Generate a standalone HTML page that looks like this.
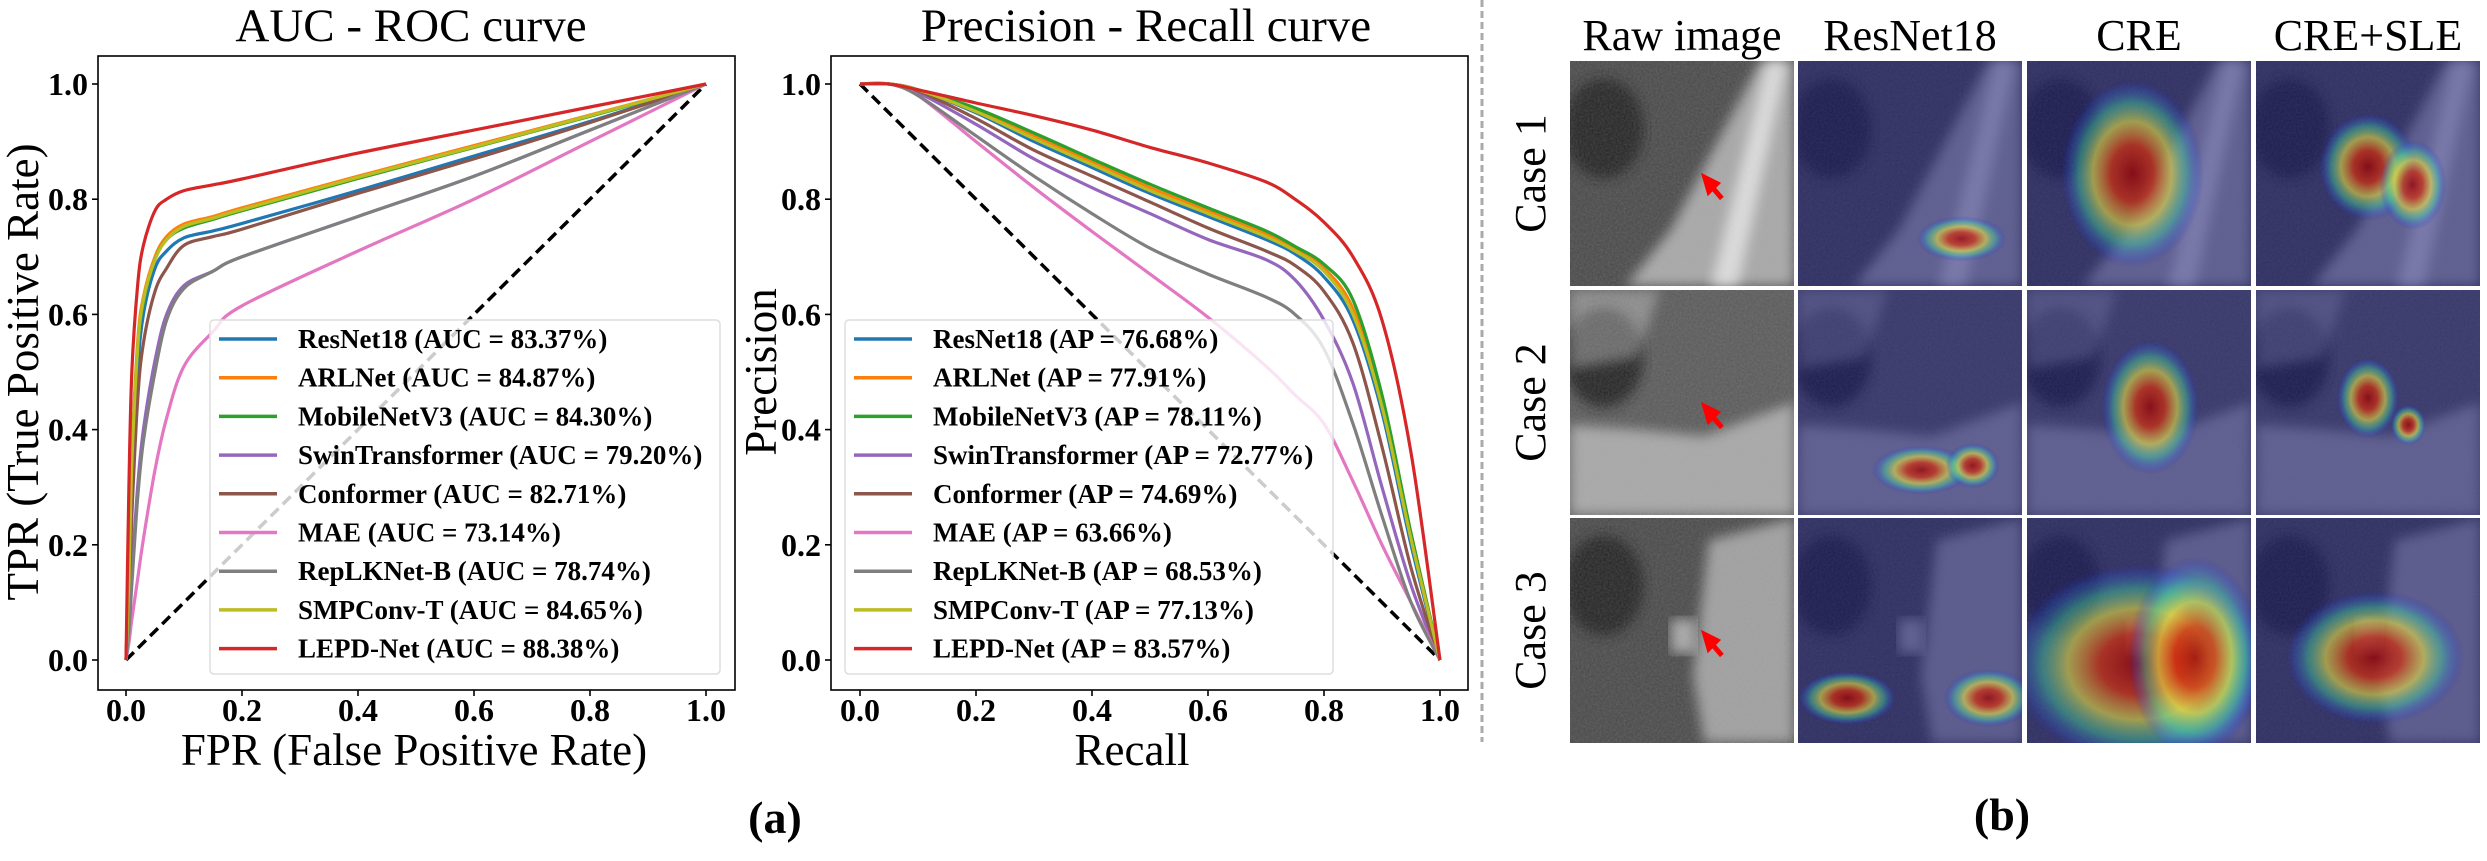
<!DOCTYPE html>
<html><head><meta charset="utf-8"><style>
html,body{margin:0;padding:0;background:#fff;}
svg, svg text{font-family:"Liberation Serif","DejaVu Serif","Times New Roman",serif;}
</style></head><body>
<svg id="fig" width="2487" height="856" viewBox="0 0 2487 856" xmlns="http://www.w3.org/2000/svg" font-family="Liberation Serif, DejaVu Serif, serif">
<defs>
  <radialGradient id="heat" cx="0.5" cy="0.5" r="0.5">
    <stop offset="0" stop-color="#a00000" stop-opacity="0.75"/>
    <stop offset="0.3" stop-color="#d8300a" stop-opacity="0.7"/>
    <stop offset="0.55" stop-color="#e8e040" stop-opacity="0.6"/>
    <stop offset="0.75" stop-color="#40d0a0" stop-opacity="0.45"/>
    <stop offset="0.9" stop-color="#3060e0" stop-opacity="0.25"/>
    <stop offset="1" stop-color="#2020a0" stop-opacity="0"/>
  </radialGradient>
  <filter id="blur6"><feGaussianBlur stdDeviation="6"/></filter>
  <filter id="noise" x="0" y="0" width="1" height="1">
    <feTurbulence type="fractalNoise" baseFrequency="0.5" numOctaves="2" result="n"/>
    <feColorMatrix type="matrix" values="0 0 0 0 0.5  0 0 0 0 0.5  0 0 0 0 0.5  0 0 0 0.25 0"/>
  </filter>
</defs>
<g id="roc"></g>
<g id="pr"></g>
<line x1="1482" y1="0" x2="1482" y2="742" stroke="#aaa" stroke-width="3" stroke-dasharray="7,4"/>
<text x="775" y="833" font-size="46" font-weight="bold" text-anchor="middle">(a)</text>
<g id="grid"></g>
<text x="2002" y="830" font-size="46" font-weight="bold" text-anchor="middle">(b)</text>
</svg>
<script>
const NS="http://www.w3.org/2000/svg";
const seriesNames=["ResNet18","ARLNet","MobileNetV3","SwinTransformer","Conformer","MAE","RepLKNet-B","SMPConv-T","LEPD-Net"];
const seriesColors=["#1f77b4","#ff7f0e","#2ca02c","#9467bd","#8c564b","#e377c2","#7f7f7f","#bcbd22","#d62728"];
const aucValues=["83.37%","84.87%","84.30%","79.20%","82.71%","73.14%","78.74%","84.65%","88.38%"];
const apValues=["76.68%","77.91%","78.11%","72.77%","74.69%","63.66%","68.53%","77.13%","83.57%"];
const tickLabels=["0.0","0.2","0.4","0.6","0.8","1.0"];
const tickValues=[0,0.2,0.4,0.6,0.8,1.0];
const fprGrid=[0,0.005,0.01,0.02,0.03,0.05,0.07,0.1,0.15,0.2,0.4,0.6,0.8,1];
const tprResNet18=[0,0.12,0.3,0.5,0.6,0.68,0.71,0.733,0.745,0.758,0.815,0.875,0.935,1];
const tprARLNet=[0,0.15,0.35,0.55,0.63,0.7,0.735,0.757,0.77,0.785,0.84,0.893,0.946,1];
const tprMobileNetV3=[0,0.15,0.34,0.54,0.62,0.695,0.73,0.75,0.765,0.78,0.836,0.89,0.944,1];
const tprSwin=[0,0.06,0.15,0.3,0.4,0.52,0.6,0.65,0.675,0.7,0.77,0.84,0.92,1];
const tprConformer=[0,0.1,0.25,0.45,0.55,0.64,0.68,0.72,0.735,0.748,0.81,0.87,0.933,1];
const tprMAE=[0,0.03,0.07,0.14,0.21,0.33,0.42,0.51,0.57,0.615,0.71,0.8,0.9,1];
const tprRepLK=[0,0.05,0.13,0.28,0.38,0.5,0.59,0.645,0.675,0.7,0.77,0.84,0.92,1];
const tprSMPConv=[0,0.14,0.34,0.54,0.625,0.695,0.73,0.753,0.767,0.782,0.838,0.891,0.945,1];
const tprLEPD=[0,0.3,0.5,0.65,0.72,0.78,0.8,0.815,0.825,0.835,0.88,0.92,0.96,1];
const rocSeries=[tprResNet18,tprARLNet,tprMobileNetV3,tprSwin,tprConformer,tprMAE,tprRepLK,tprSMPConv,tprLEPD];
const recallGrid=[0,0.05,0.1,0.2,0.3,0.4,0.5,0.6,0.7,0.75,0.8,0.85,0.9,0.95,1];
const precResNet18=[1,1,0.99,0.95,0.9,0.855,0.81,0.77,0.73,0.705,0.665,0.59,0.43,0.2,0];
const precARLNet=[1,1,0.99,0.955,0.91,0.865,0.82,0.78,0.74,0.713,0.68,0.61,0.45,0.22,0];
const precMobileNetV3=[1,1,0.99,0.958,0.915,0.87,0.826,0.785,0.745,0.718,0.687,0.625,0.46,0.22,0];
const precSwin=[1,1,0.985,0.93,0.87,0.82,0.775,0.73,0.695,0.66,0.59,0.48,0.3,0.13,0];
const precConformer=[1,1,0.988,0.94,0.885,0.84,0.795,0.75,0.71,0.685,0.64,0.55,0.37,0.16,0];
const precMAE=[1,1,0.98,0.9,0.82,0.744,0.67,0.595,0.51,0.46,0.41,0.31,0.2,0.1,0];
const precRepLK=[1,1,0.98,0.91,0.84,0.775,0.715,0.67,0.63,0.6,0.54,0.41,0.25,0.1,0];
const precSMPConv=[1,1,0.99,0.952,0.905,0.86,0.815,0.775,0.735,0.71,0.675,0.6,0.44,0.21,0];
const precLEPD=[1,1,0.99,0.967,0.945,0.92,0.89,0.863,0.83,0.8,0.76,0.7,0.59,0.36,0];
const prSeries=[precResNet18,precARLNet,precMobileNetV3,precSwin,precConformer,precMAE,precRepLK,precSMPConv,precLEPD];

function mk(tag,attrs,parent){const e=document.createElementNS(NS,tag);for(const k in attrs)e.setAttribute(k,attrs[k]);if(parent)parent.appendChild(e);return e;}
function smoothPath(pts){let d="M"+pts[0][0].toFixed(1)+","+pts[0][1].toFixed(1);
 for(let i=0;i<pts.length-1;i++){const p0=pts[Math.max(0,i-1)],p1=pts[i],p2=pts[i+1],p3=pts[Math.min(pts.length-1,i+2)];
  const c1=[p1[0]+(p2[0]-p0[0])/6,p1[1]+(p2[1]-p0[1])/6],c2=[p2[0]-(p3[0]-p1[0])/6,p2[1]-(p3[1]-p1[1])/6];
  d+=" C"+c1[0].toFixed(1)+","+c1[1].toFixed(1)+" "+c2[0].toFixed(1)+","+c2[1].toFixed(1)+" "+p2[0].toFixed(1)+","+p2[1].toFixed(1);}
 return d;}

function drawChart(g,cfg){
 const sx=v=>cfg.x0+(cfg.x1-cfg.x0)*v, sy=v=>cfg.y0+(cfg.y1-cfg.y0)*v;
 const title=mk("text",{x:cfg.tcx,y:41,"font-size":47,"text-anchor":"middle"},g);title.textContent=cfg.title;
 
 
 const dg=mk("line",{x1:sx(cfg.diag[0][0]),y1:sy(cfg.diag[0][1]),x2:sx(cfg.diag[1][0]),y2:sy(cfg.diag[1][1]),stroke:"#000","stroke-width":3.5,"stroke-dasharray":"11,6"},g);
 
 
 cfg.series.forEach((arr,i)=>{
  const pts=cfg.grid.map((gv,j)=>[sx(gv),sy(arr[j])]);
  const p=mk("path",{d:smoothPath(pts),fill:"none",stroke:seriesColors[i],"stroke-width":3.2,"stroke-linejoin":"round"},g);
  
  
 });
 const fr=mk("rect",{x:cfg.bx0,y:56,width:cfg.bx1-cfg.bx0,height:634,fill:"none",stroke:"#000","stroke-width":1.6},g);
 
 
 tickValues.forEach((v,i)=>{
  mk("line",{x1:sx(v),y1:690,x2:sx(v),y2:696,stroke:"#000","stroke-width":1.6},g);
  const tx=mk("text",{x:sx(v),y:721,"font-size":32,"font-weight":"bold","text-anchor":"middle"},g);tx.textContent=tickLabels[i];
  
  
  mk("line",{x1:cfg.bx0,y1:sy(v),x2:cfg.bx0-6,y2:sy(v),stroke:"#000","stroke-width":1.6},g);
  const ty=mk("text",{x:cfg.bx0-10,y:sy(v)+11,"font-size":32,"font-weight":"bold","text-anchor":"end"},g);ty.textContent=tickLabels[i];
  
  
 });
 const xl=mk("text",{x:cfg.xlx,y:765,"font-size":45,"text-anchor":"middle"},g);xl.textContent=cfg.xlabel;
 
 
 const yl=mk("text",{x:0,y:0,"font-size":45,"text-anchor":"middle",transform:"translate("+cfg.ylx+",372) rotate(-90)"},g);yl.textContent=cfg.ylabel;
 
 
 const lg=mk("g",{},g);
 
 
 mk("rect",{x:cfg.lx0,y:320,width:cfg.lx1-cfg.lx0,height:354,rx:4,fill:"#fff","fill-opacity":0.8,stroke:"#ddd","stroke-width":1.5},lg);
 seriesNames.forEach((n,i)=>{
  const y=339+i*38.7;
  const e=mk("g",{},lg);
  
  
  mk("line",{x1:cfg.lx0+9,y1:y,x2:cfg.lx0+67,y2:y,stroke:seriesColors[i],"stroke-width":3.5},e);
  const t=mk("text",{x:cfg.lx0+88,y:y+9,"font-size":27,"font-weight":"bold"},e);
  t.textContent=n+" ("+cfg.metric+" = "+cfg.values[i]+")";
 });
}
drawChart(document.getElementById("roc"),{x0:126,x1:706,y0:660,y1:84,bx0:98,bx1:735,tcx:411,title:"AUC - ROC curve",
 grid:fprGrid,series:rocSeries,diag:[[0,0],[1,1]],xlabel:"FPR (False Positive Rate)",ylabel:"TPR (True Positive Rate)",xlx:414,ylx:38,
 lx0:210,lx1:720,metric:"AUC",values:aucValues});
drawChart(document.getElementById("pr"),{x0:860,x1:1440,y0:660,y1:84,bx0:831,bx1:1468,tcx:1146,title:"Precision - Recall curve",
 grid:recallGrid,series:prSeries,diag:[[0,1],[1,0]],xlabel:"Recall",ylabel:"Precision",xlx:1132,ylx:776,
 lx0:845,lx1:1333,metric:"AP",values:apValues});

const grid=document.getElementById("grid");
const colTitles=["Raw image","ResNet18","CRE","CRE+SLE"];
const colX=[1570,1798,2027,2256], rowY=[61,290,518], W=224, H=225;
colTitles.forEach((t,i)=>{const e=mk("text",{x:colX[i]+W/2,y:50,"font-size":44,"text-anchor":"middle"},grid);e.textContent=t;
 
 });
["Case 1","Case 2","Case 3"].forEach((t,r)=>{const e=mk("text",{x:0,y:0,"font-size":44,"text-anchor":"middle",transform:"translate(1545,"+(rowY[r]+H/2)+") rotate(-90)"},grid);e.textContent=t;
 
 });
const bones=[
 [{pts:"0.85,0 1,0 1,1 0.25,1 0.45,0.75",op:0.6},{pts:"0.88,0 0.97,0 0.75,1 0.63,1",op:0.85}],
 [{pts:"0,0.6 0.3,0.62 0.6,0.65 1,0.5 1,1 0,1",op:0.55},{pts:"0,0 0.4,0 0.3,0.3 0,0.35",op:0.35}],
 [{pts:"0.62,0.1 1,0 1,1 0.6,1 0.55,0.7",op:0.55},{pts:"0.45,0.45 0.56,0.45 0.56,0.6 0.45,0.6",op:0.6}]
];
const blobs=[
 [[],[[0.73,0.79,0.2,0.1]],[[0.47,0.5,0.32,0.42]],[[0.5,0.47,0.22,0.24],[0.7,0.55,0.15,0.2]]],
 [[],[[0.55,0.8,0.22,0.11],[0.78,0.78,0.12,0.1]],[[0.55,0.52,0.22,0.3]],[[0.5,0.48,0.14,0.18],[0.68,0.6,0.08,0.09]]],
 [[],[[0.22,0.8,0.22,0.12],[0.85,0.8,0.2,0.13]],[[0.5,0.65,0.58,0.45],[0.75,0.62,0.3,0.45]],[[0.53,0.62,0.4,0.3]]]
];
for(let r=0;r<3;r++)for(let c=0;c<4;c++){
 const x=colX[c],y=rowY[r];
 const cell=mk("g",{},grid);
 
 
 const cp="cp"+r+c;
 const clip=mk("clipPath",{id:cp},cell);mk("rect",{x:x,y:y,width:W,height:H},clip);
 const inner=mk("g",{"clip-path":"url(#"+cp+")"},cell);
 mk("rect",{x:x,y:y,width:W,height:H,fill:r==1?"#585858":"#474747"},inner);
 mk("ellipse",{cx:x+W*0.15,cy:y+H*0.3,rx:40,ry:50,fill:"#222",filter:"url(#blur6)"},inner);
 bones[r].forEach(b=>{const pts=b.pts.split(" ").map(s=>{const [a,bb]=s.split(",").map(Number);return (x+a*W)+","+(y+bb*H);}).join(" ");
  mk("polygon",{points:pts,fill:"#e8e8e8","fill-opacity":b.op,filter:"url(#blur6)"},inner);});
 mk("rect",{x:x,y:y,width:W,height:H,filter:"url(#noise)"},inner);
 if(c>0){mk("rect",{x:x,y:y,width:W,height:H,fill:"#18187a","fill-opacity":0.5},inner);}
 blobs[r][c].forEach(b=>{mk("ellipse",{cx:x+b[0]*W,cy:y+b[1]*H,rx:b[2]*W,ry:b[3]*H,fill:"url(#heat)"},inner);});
 if(c==0){const ax=x+W*0.62,ay=y+H*0.58;
  mk("path",{d:"M"+ax+","+ay+" l-4,-14 l12,6 z M"+(ax+1)+","+(ay-7)+" l12,14",stroke:"#f00","stroke-width":5,fill:"#f00"},inner);}
}
</script>
</body></html>
